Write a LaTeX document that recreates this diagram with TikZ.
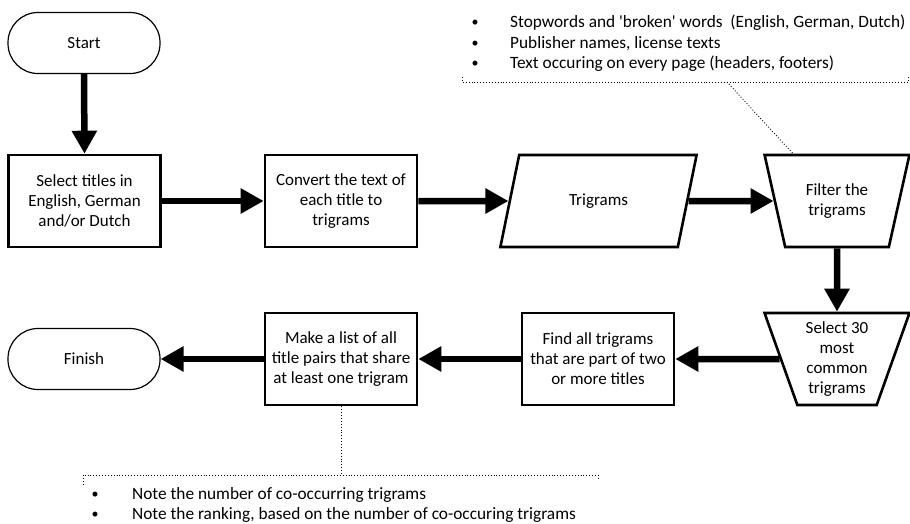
\documentclass[tikz,border=0pt]{standalone}
\usepackage{fontspec}
\setmainfont{Carlito}
\usetikzlibrary{shapes.geometric,arrows.meta}
\begin{document}
\begin{tikzpicture}[x=1pt,y=-1pt,
  every node/.style={font=\fontsize{17}{20}\selectfont, align=center, inner sep=1pt},
  term/.style={draw, line width=1.2pt, rounded corners=30pt, minimum width=152pt, minimum height=61pt},
  proc/.style={draw, line width=2.6pt, minimum width=152pt, minimum height=92pt},
  dataio/.style={draw, line width=2.6pt, trapezium, trapezium left angle=66.5, trapezium right angle=113.5, trapezium stretches=true, minimum width=197pt, minimum height=92pt},
  manual/.style={draw, line width=2.6pt, trapezium, shape border rotate=180, trapezium angle=70.8, trapezium stretches=true, minimum width=145pt, minimum height=92pt},
  flow/.style={line width=6.5pt, -{Triangle[length=23pt,width=24pt]}},
  note/.style={line width=0.9pt, dotted},
  notetext/.style={font=\fontsize{17.3}{20.5}\selectfont, align=left, anchor=west, inner sep=0pt},
  blt/.style={font=\fontsize{14}{20.5}\selectfont, anchor=center, inner sep=0pt}
]
\useasboundingbox (0,0) rectangle (910,523);

\node[term] (start) at (84,43) {Start};
\node[proc] (sel) at (84.5,201) {Select titles in\\English, German\\and/or Dutch};
\node[proc] (conv) at (341,201) {Convert the text of\\each title to\\trigrams};
\node[dataio] (tri) at (598.5,201) {Trigrams};
\node[manual] (filt) at (837,201) {Filter the\\trigrams};
\node[manual] (top) at (837,359) {Select 30\\most\\common\\trigrams};
\node[proc] (find) at (598,359) {Find all trigrams\\that are part of two\\or more titles};
\node[proc] (make) at (341,359) {Make a list of all\\title pairs that share\\at least one trigram};
\node[term] (fin) at (84,359) {Finish};

\draw[flow] (start.south) -- (sel.north);
\draw[flow] (sel.east) -- (conv.west);
\draw[flow] (conv.east) -- (tri.west);
\draw[flow] (tri.east) -- (filt.west);
\draw[flow] (filt.south) -- (top.north);
\draw[flow] (top.west) -- (find.east);
\draw[flow] (find.west) -- (make.east);
\draw[flow] (make.west) -- (fin.east);

% top annotation
\coordinate (tl) at (462,77);
\coordinate (tr) at (908,77);
\coordinate (tm) at (727,82);
\draw[note] (tl) -- (462,82) -- (908,82) -- (tr);
\draw[note] (tm) -- (filt.north -| 793,0);
\node[blt] (b1) at (475,23) {\textbullet};
\node[blt] (b2) at (475,44) {\textbullet};
\node[blt] (b3) at (475,64) {\textbullet};
\node[notetext] (t1) at (510,23) {Stopwords and \textquotesingle broken\textquotesingle\ words~ (English, German, Dutch)};
\node[notetext] (t2) at (510,44) {Publisher names, license texts};
\node[notetext] (t3) at (510,64) {Text occuring on every page (headers, footers)};

% bottom annotation
\coordinate (bl) at (83,485);
\coordinate (br) at (598,480);
\coordinate (bm) at (341,475);
\draw[note] (bl) -- (83,475) -- (598,475) -- (br);
\draw[note] (make.south) -- (bm);
\node[blt] (b4) at (95,495) {\textbullet};
\node[blt] (b5) at (95,515) {\textbullet};
\node[notetext] (t4) at (132,495) {Note the number of co-occurring trigrams};
\node[notetext] (t5) at (132,515) {Note the ranking, based on the number of co-occuring trigrams};
\end{tikzpicture}
\end{document}
